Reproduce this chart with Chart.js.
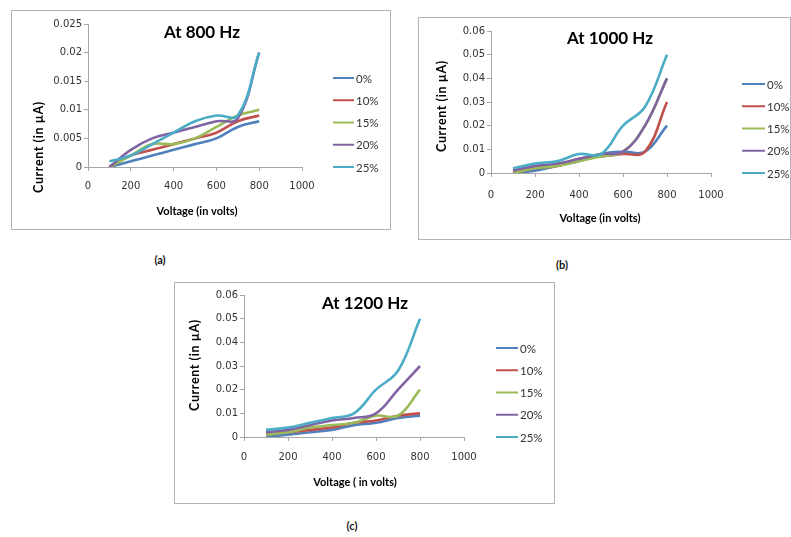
<!DOCTYPE html>
<html>
<head>
<meta charset="utf-8">
<script src="https://cdn.jsdelivr.net/npm/chart.js@4.4.1/dist/chart.umd.min.js"></script>
<style>
  body { margin: 0; background: #fff; width: 791px; height: 537px; overflow: hidden; position: relative; font-family: Lato, sans-serif; }
  .box { position: absolute; border: 1px solid #b4b4b4; box-sizing: border-box; }
  .box canvas { display: block; }
  .cap { position: absolute; font: bold 11px Lato, sans-serif; color: #111; transform: translate(-50%, -50%); }
</style>
</head>
<body>
<div class="box" style="left:11px;top:10px;width:380px;height:220px"><canvas id="chartA"></canvas></div>
<div class="box" style="left:418px;top:17px;width:373px;height:223px"><canvas id="chartB"></canvas></div>
<div class="box" style="left:174px;top:282px;width:381px;height:222px"><canvas id="chartC"></canvas></div>
<div class="cap" style="left:160px;top:259px">(a)</div>
<div class="cap" style="left:562px;top:264px">(b)</div>
<div class="cap" style="left:352px;top:525px">(c)</div>
<script>
const voltage = [100, 200, 300, 400, 500, 600, 700, 800];
const seriesNames = ['0%', '10%', '15%', '20%', '25%'];
const colors = ['#4F81BD', '#C0504D', '#9BBB59', '#8064A2', '#4BACC6'];
const xTicks = [0, 200, 400, 600, 800, 1000];
const yTicksA = ['0', '0.005', '0.01', '0.015', '0.02', '0.025'];
const yTicksBC = ['0', '0.01', '0.02', '0.03', '0.04', '0.05', '0.06'];

// At 800 Hz
const hz800p0  = [0, 0.001, 0.002, 0.003, 0.004, 0.005, 0.007, 0.008];
const hz800p10 = [0, 0.002, 0.003, 0.004, 0.005, 0.006, 0.008, 0.009];
const hz800p15 = [0, 0.002, 0.004, 0.004, 0.005, 0.007, 0.009, 0.010];
const hz800p20 = [0, 0.003, 0.005, 0.006, 0.007, 0.008, 0.0085, 0.020];
const hz800p25 = [0.001, 0.002, 0.004, 0.006, 0.008, 0.009, 0.009, 0.020];

// At 1000 Hz
const hz1000p0  = [0, 0.001, 0.003, 0.005, 0.008, 0.009, 0.009, 0.020];
const hz1000p10 = [0, 0.002, 0.003, 0.006, 0.007, 0.008, 0.009, 0.030];
const hz1000p15 = [0, 0.002, 0.003, 0.005, 0.007, 0.009, 0.020, 0.040];
const hz1000p20 = [0.001, 0.003, 0.004, 0.006, 0.008, 0.009, 0.020, 0.040];
const hz1000p25 = [0.002, 0.004, 0.005, 0.008, 0.008, 0.020, 0.028, 0.050];

// At 1200 Hz
const hz1200p0  = [0, 0.001, 0.002, 0.003, 0.005, 0.006, 0.008, 0.009];
const hz1200p10 = [0.001, 0.002, 0.003, 0.004, 0.006, 0.007, 0.009, 0.010];
const hz1200p15 = [0.001, 0.002, 0.004, 0.005, 0.006, 0.009, 0.009, 0.020];
const hz1200p20 = [0.002, 0.003, 0.005, 0.007, 0.008, 0.010, 0.020, 0.030];
const hz1200p25 = [0.003, 0.004, 0.006, 0.008, 0.010, 0.020, 0.028, 0.050];

// titles, axis titles and legend drawn on the canvas
const texts = {
  id: 'texts',
  afterDraw(chart, args, o) {
    const ctx = chart.ctx;
    ctx.save();
    ctx.fillStyle = '#000';
    ctx.textAlign = 'center';
    ctx.textBaseline = 'middle';
    ctx.font = 'bold 17px Lato';
    ctx.fillText(o.title, o.titlePos[0], o.titlePos[1]);
    ctx.font = 'bold 11px Lato';
    ctx.fillText(o.xTitle, o.xTitlePos[0], o.xTitlePos[1]);
    ctx.save();
    ctx.translate(o.yTitlePos[0], o.yTitlePos[1]);
    ctx.rotate(-Math.PI / 2);
    ctx.font = 'bold 12.5px Lato';
    ctx.letterSpacing = '0.6px';
    ctx.fillText(o.yTitle, 0, 0);
    ctx.restore();

    const ds = chart.data.datasets;
    const step = (o.legend.y1 - o.legend.y0) / (ds.length - 1);
    ctx.font = '11.5px Lato';
    ctx.textAlign = 'left';
    ctx.fillStyle = '#333';
    ds.forEach((d, i) => {
      const y = o.legend.y0 + i * step;
      ctx.strokeStyle = d.borderColor;
      ctx.lineWidth = 2;
      ctx.beginPath();
      ctx.moveTo(o.legend.x, y);
      ctx.lineTo(o.legend.x + o.legend.len, y);
      ctx.stroke();
      ctx.fillText(d.label, o.legend.x + o.legend.len + 2, y + 1);
    });
    ctx.restore();
  }
};

function makeChart(id, series, yMax, yStep, yTicks, lay) {
  const canvas = document.getElementById(id);
  canvas.width = lay.w;
  canvas.height = lay.h;
  return new Chart(canvas, {
    type: 'line',
    data: {
      datasets: series.map((vals, i) => ({
        label: seriesNames[i],
        data: voltage.map((v, j) => ({ x: v, y: vals[j] })),
        borderColor: colors[i],
        backgroundColor: colors[i],
        borderWidth: 2.6,
        pointRadius: 0,
        tension: 0.4,
        fill: false,
        order: series.length - i
      }))
    },
    options: {
      responsive: false,
      animation: false,
      layout: { padding: { left: 0, top: lay.top, right: lay.right, bottom: 0 } },
      plugins: {
        legend: { display: false },
        tooltip: { enabled: false },
        texts: {
          title: lay.title,
          titlePos: lay.titlePos,
          xTitle: lay.xTitle,
          xTitlePos: lay.xTitlePos,
          yTitle: 'Current (in µA)',
          yTitlePos: lay.yTitlePos,
          legend: lay.legend
        }
      },
      scales: {
        x: {
          type: 'linear',
          min: 0,
          max: 1000,
          afterBuildTicks: s => { s.ticks = xTicks.map(v => ({ value: v })); },
          afterFit: s => { s.height = lay.xH; },
          grid: { drawOnChartArea: false, tickLength: 4, color: '#a6a6a6' },
          border: { color: '#a6a6a6' },
          ticks: { padding: lay.xPad, color: '#333', font: { family: 'DejaVu Sans', size: 10 }, maxRotation: 0, callback: v => String(v) }
        },
        y: {
          min: 0,
          max: yMax,
          afterBuildTicks: s => { s.ticks = yTicks.map((t, i) => ({ value: i * yStep })); },
          afterFit: s => { s.width = lay.yW; },
          grid: { drawOnChartArea: false, tickLength: 4, color: '#a6a6a6' },
          border: { color: '#a6a6a6' },
          ticks: { padding: 2, color: '#333', font: { family: 'DejaVu Sans', size: 10 }, callback: (v, i) => yTicks[i] }
        }
      }
    },
    plugins: [texts]
  });
}

makeChart('chartA', [hz800p0, hz800p10, hz800p15, hz800p20, hz800p25], 0.025, 0.005, yTicksA, {
  w: 378, h: 218, top: 13, right: 88, xH: 62, yW: 76, xPad: 9,
  title: 'At 800 Hz', titlePos: [190, 22],
  xTitle: 'Voltage (in volts)', xTitlePos: [185, 200],
  yTitlePos: [27, 136],
  legend: { x: 321, len: 21, y0: 67, y1: 156 }
});

makeChart('chartB', [hz1000p0, hz1000p10, hz1000p15, hz1000p20, hz1000p25], 0.06, 0.01, yTicksBC, {
  w: 371, h: 221, top: 13, right: 79, xH: 66, yW: 72, xPad: 12,
  title: 'At 1000 Hz', titlePos: [191, 21],
  xTitle: 'Voltage (in volts)', xTitlePos: [181, 200],
  yTitlePos: [23, 88],
  legend: { x: 323, len: 23, y0: 66, y1: 155 }
});

makeChart('chartC', [hz1200p0, hz1200p10, hz1200p15, hz1200p20, hz1200p25], 0.06, 0.01, yTicksBC, {
  w: 379, h: 220, top: 12, right: 90, xH: 66, yW: 69, xPad: 10,
  title: 'At 1200 Hz', titlePos: [190, 21],
  xTitle: 'Voltage ( in volts)', xTitlePos: [180, 199],
  yTitlePos: [20, 82],
  legend: { x: 321, len: 22, y0: 65, y1: 154 }
});
</script>
</body>
</html>
